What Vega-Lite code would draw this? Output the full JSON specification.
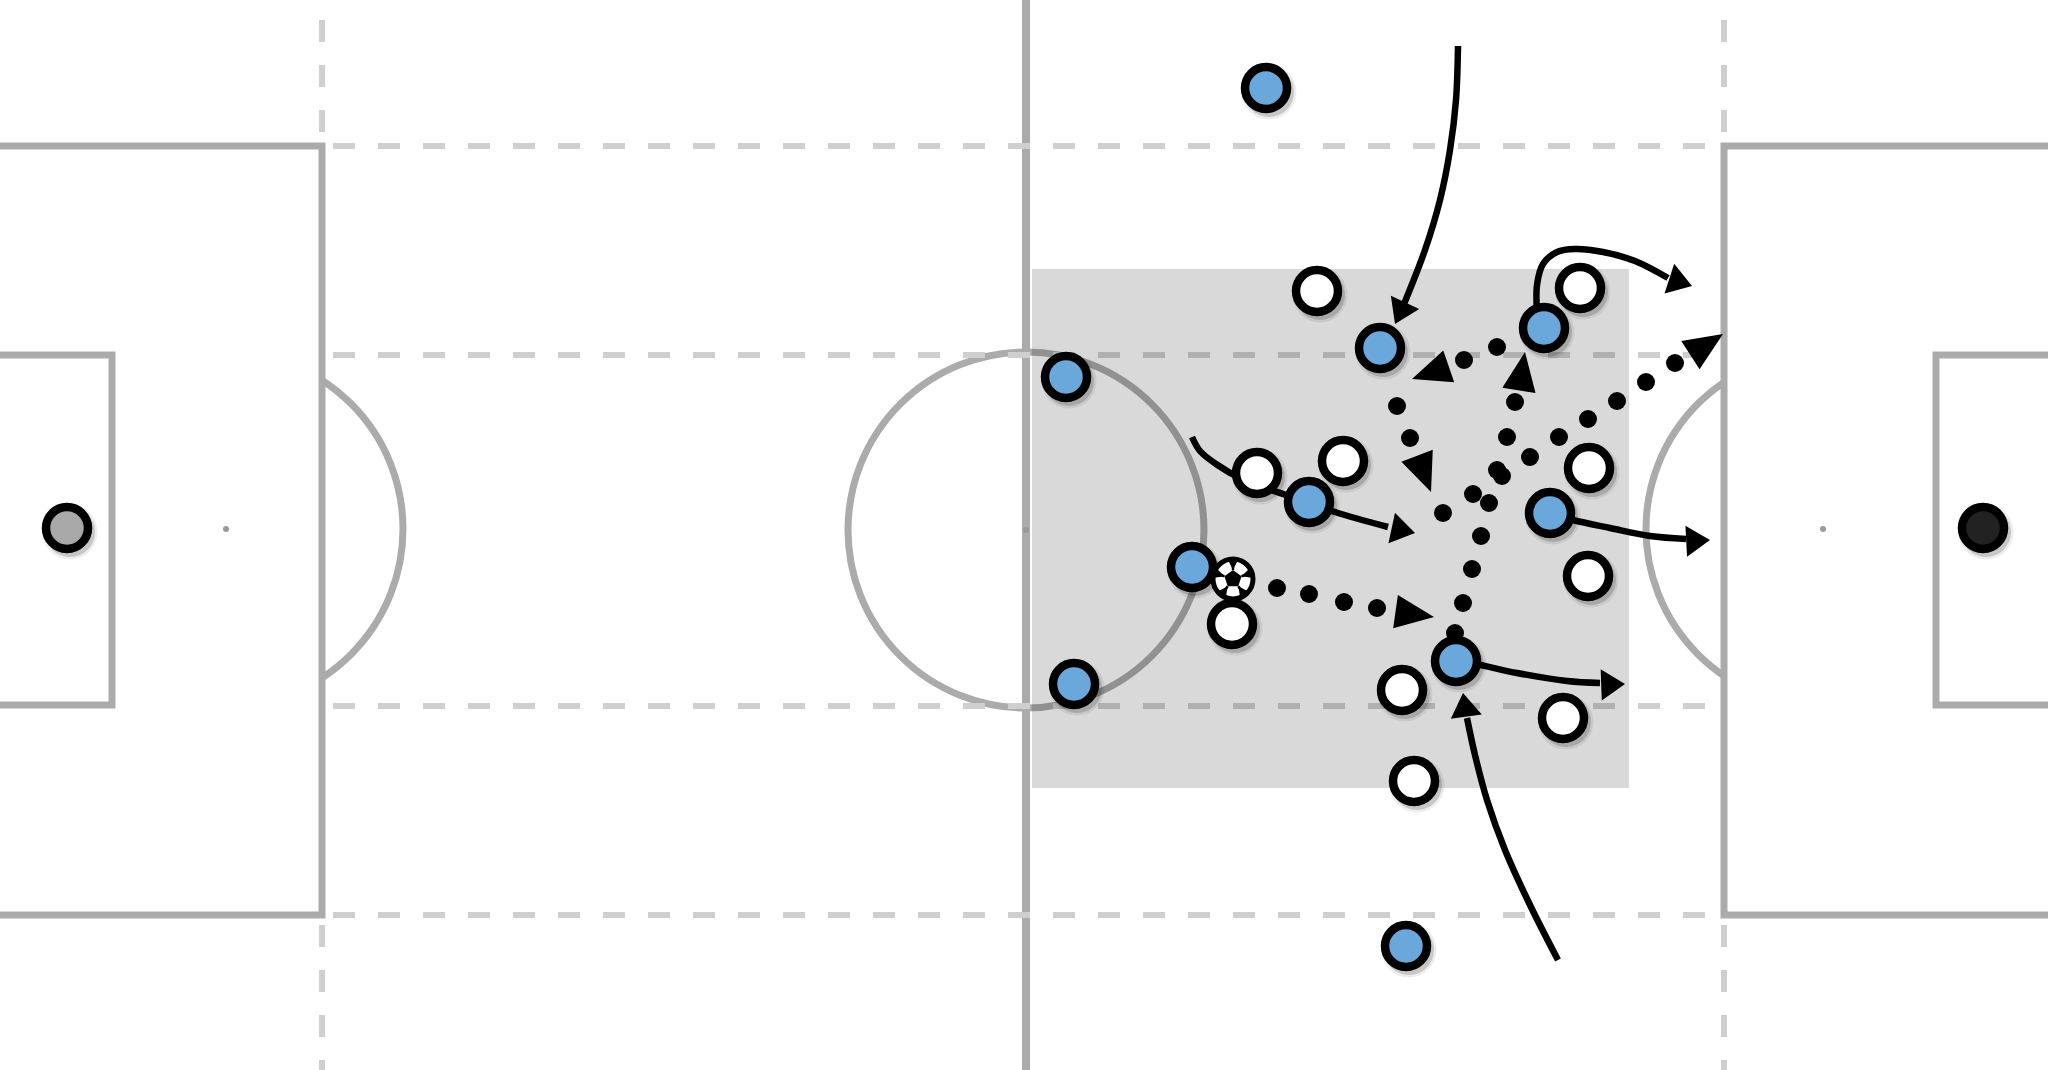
{
  "$schema": "https://vega.github.io/schema/vega-lite/v6.json",
  "width": 2048,
  "height": 1070,
  "padding": 0,
  "autosize": {"type": "none"},
  "background": "#ffffff",
  "config": {"view": {"stroke": null}},
  "datasets": {
    "players": [
      {"x": 63.3, "y": 4.4, "team": "blue"},
      {"x": 53.3, "y": 18.85, "team": "blue"},
      {"x": 69.0, "y": 17.4, "team": "blue"},
      {"x": 77.2, "y": 16.4, "team": "blue"},
      {"x": 65.45, "y": 25.1, "team": "blue"},
      {"x": 77.5, "y": 25.65, "team": "blue"},
      {"x": 59.6, "y": 28.35, "team": "blue"},
      {"x": 53.7, "y": 34.2, "team": "blue"},
      {"x": 72.8, "y": 33.05, "team": "blue"},
      {"x": 70.3, "y": 47.3, "team": "blue"},
      {"x": 65.85, "y": 14.55, "team": "white"},
      {"x": 79.0, "y": 14.4, "team": "white"},
      {"x": 62.85, "y": 23.65, "team": "white"},
      {"x": 67.15, "y": 23.05, "team": "white"},
      {"x": 79.45, "y": 23.4, "team": "white"},
      {"x": 79.4, "y": 28.8, "team": "white"},
      {"x": 61.6, "y": 31.2, "team": "white"},
      {"x": 70.1, "y": 34.5, "team": "white"},
      {"x": 78.15, "y": 35.9, "team": "white"},
      {"x": 70.7, "y": 39.05, "team": "white"},
      {"x": 3.35, "y": 26.4, "team": "keeper grey"},
      {"x": 99.15, "y": 26.4, "team": "keeper black"}
    ],
    "ball": [{"x": 61.65, "y": 28.95}]
  },
  "encoding": {
    "x": {"field": "x", "type": "quantitative", "scale": {"domain": [0, 102.4], "nice": false, "zero": false}, "axis": null},
    "y": {"field": "y", "type": "quantitative", "scale": {"domain": [0, 53.5], "nice": false, "zero": false, "reverse": true}, "axis": null}
  },
  "layer": [
    {
      "data": {"values": [{"x": 11.3, "y": 26.45}, {"x": 91.15, "y": 26.45}]},
      "mark": {"type": "point", "shape": "circle", "filled": false, "stroke": "#ababab", "strokeWidth": 7, "size": 125316, "opacity": 1}
    },
    {
      "data": {"values": [
        {"x": -1, "x2": 16.1, "y": 7.3, "y2": 45.75},
        {"x": 86.2, "x2": 103.5, "y": 7.3, "y2": 45.75}
      ]},
      "mark": {"type": "rect", "fill": "#ffffff", "stroke": "#ababab", "strokeWidth": 7},
      "encoding": {"x2": {"field": "x2"}, "y2": {"field": "y2"}}
    },
    {
      "data": {"values": [
        {"x": -1, "x2": 5.6, "y": 17.75, "y2": 35.25},
        {"x": 96.8, "x2": 103.5, "y": 17.75, "y2": 35.25}
      ]},
      "mark": {"type": "rect", "fill": "#ffffff", "stroke": "#ababab", "strokeWidth": 7},
      "encoding": {"x2": {"field": "x2"}, "y2": {"field": "y2"}}
    },
    {
      "data": {"values": [{"x": 51.3, "y": 26.5}]},
      "mark": {"type": "point", "shape": "circle", "filled": false, "stroke": "#ababab", "strokeWidth": 7, "size": 126736, "opacity": 1}
    },
    {
      "data": {"values": [{"x": 51.3, "y": -1, "y2": 54.5}]},
      "mark": {"type": "rule", "stroke": "#ababab", "strokeWidth": 8},
      "encoding": {"y2": {"field": "y2"}}
    },
    {
      "data": {"values": [
        {"x": 16.65, "x2": 85.9, "y": 7.3, "y2": 7.3},
        {"x": 16.65, "x2": 85.9, "y": 17.75, "y2": 17.75},
        {"x": 16.65, "x2": 85.9, "y": 35.3, "y2": 35.3},
        {"x": 16.65, "x2": 85.9, "y": 45.75, "y2": 45.75},
        {"x": 16.1, "x2": 16.1, "y": 1.0, "y2": 7.0},
        {"x": 16.1, "x2": 16.1, "y": 46.25, "y2": 53.5},
        {"x": 86.2, "x2": 86.2, "y": 1.0, "y2": 7.0},
        {"x": 86.2, "x2": 86.2, "y": 46.25, "y2": 53.5}
      ]},
      "mark": {"type": "rule", "stroke": "#cfcfcf", "strokeWidth": 6, "strokeDash": [22, 23]},
      "encoding": {"x2": {"field": "x2"}, "y2": {"field": "y2"}}
    },
    {
      "data": {"values": [{"x": 11.3, "y": 26.45}, {"x": 91.15, "y": 26.45}, {"x": 51.3, "y": 26.5}]},
      "mark": {"type": "point", "shape": "circle", "filled": true, "color": "#9a9a9a", "size": 36, "opacity": 1}
    },
    {
      "data": {"values": [{"x": 51.6, "x2": 81.45, "y": 13.45, "y2": 39.4}]},
      "mark": {"type": "rect", "color": "#000000", "opacity": 0.15},
      "encoding": {"x2": {"field": "x2"}, "y2": {"field": "y2"}}
    },
    {
      "data": {"values": [
        {"id": "A", "seq": 1, "x": 72.9, "y": 2.3},
        {"id": "A", "seq": 2, "x": 72.8, "y": 5.0},
        {"id": "A", "seq": 3, "x": 72.5, "y": 7.5},
        {"id": "A", "seq": 4, "x": 72.0, "y": 10.0},
        {"id": "A", "seq": 5, "x": 71.25, "y": 12.5},
        {"id": "A", "seq": 6, "x": 70.2, "y": 15.2},
        {"id": "B", "seq": 1, "x": 76.85, "y": 15.6},
        {"id": "B", "seq": 2, "x": 76.85, "y": 14.25},
        {"id": "B", "seq": 3, "x": 77.15, "y": 13.2},
        {"id": "B", "seq": 4, "x": 77.85, "y": 12.6},
        {"id": "B", "seq": 5, "x": 78.75, "y": 12.45},
        {"id": "B", "seq": 6, "x": 80.15, "y": 12.6},
        {"id": "B", "seq": 7, "x": 81.75, "y": 13.05},
        {"id": "B", "seq": 8, "x": 83.4, "y": 13.9},
        {"id": "C", "seq": 1, "x": 59.6, "y": 21.85},
        {"id": "C", "seq": 2, "x": 60.0, "y": 22.55},
        {"id": "C", "seq": 3, "x": 60.8, "y": 23.2},
        {"id": "C", "seq": 4, "x": 62.0, "y": 23.9},
        {"id": "C", "seq": 5, "x": 64.3, "y": 24.75},
        {"id": "C", "seq": 6, "x": 66.75, "y": 25.6},
        {"id": "C", "seq": 7, "x": 69.4, "y": 26.35},
        {"id": "D", "seq": 1, "x": 77.5, "y": 25.65},
        {"id": "D", "seq": 2, "x": 78.65, "y": 26.0},
        {"id": "D", "seq": 3, "x": 80.5, "y": 26.4},
        {"id": "D", "seq": 4, "x": 82.5, "y": 26.8},
        {"id": "D", "seq": 5, "x": 84.3, "y": 26.95},
        {"id": "E", "seq": 1, "x": 72.8, "y": 33.05},
        {"id": "E", "seq": 2, "x": 74.0, "y": 33.25},
        {"id": "E", "seq": 3, "x": 75.85, "y": 33.65},
        {"id": "E", "seq": 4, "x": 78.35, "y": 34.05},
        {"id": "E", "seq": 5, "x": 80.0, "y": 34.15},
        {"id": "F", "seq": 1, "x": 77.9, "y": 48.0},
        {"id": "F", "seq": 2, "x": 76.5, "y": 45.25},
        {"id": "F", "seq": 3, "x": 75.25, "y": 42.5},
        {"id": "F", "seq": 4, "x": 74.35, "y": 40.0},
        {"id": "F", "seq": 5, "x": 73.75, "y": 37.75},
        {"id": "F", "seq": 6, "x": 73.35, "y": 35.9}
      ]},
      "mark": {"type": "line", "color": "#000000", "strokeWidth": 6.5, "interpolate": "catmull-rom"},
      "encoding": {"detail": {"field": "id"}, "order": {"field": "seq", "type": "quantitative"}}
    },
    {
      "data": {"values": [
        {"pass": "P1", "x": 63.85, "y": 29.4},
        {"pass": "P1", "x": 65.45, "y": 29.7},
        {"pass": "P1", "x": 67.2, "y": 30.1},
        {"pass": "P1", "x": 68.85, "y": 30.4},
        {"pass": "P2", "x": 72.75, "y": 31.65},
        {"pass": "P2", "x": 73.15, "y": 30.15},
        {"pass": "P2", "x": 73.6, "y": 28.45},
        {"pass": "P2", "x": 74.05, "y": 26.8},
        {"pass": "P2", "x": 74.45, "y": 25.15},
        {"pass": "P2", "x": 74.85, "y": 23.5},
        {"pass": "P2", "x": 75.35, "y": 21.85},
        {"pass": "P2", "x": 75.75, "y": 20.1},
        {"pass": "P3", "x": 72.15, "y": 25.65},
        {"pass": "P3", "x": 73.65, "y": 24.7},
        {"pass": "P3", "x": 75.1, "y": 23.8},
        {"pass": "P3", "x": 76.5, "y": 22.85},
        {"pass": "P3", "x": 77.95, "y": 21.85},
        {"pass": "P3", "x": 79.4, "y": 20.95},
        {"pass": "P3", "x": 80.85, "y": 20.05},
        {"pass": "P3", "x": 82.3, "y": 19.1},
        {"pass": "P3", "x": 83.75, "y": 18.15},
        {"pass": "P4", "x": 69.85, "y": 20.3},
        {"pass": "P4", "x": 70.5, "y": 21.9},
        {"pass": "P5", "x": 74.85, "y": 17.35},
        {"pass": "P5", "x": 73.2, "y": 18.0}
      ]},
      "mark": {"type": "point", "shape": "circle", "filled": true, "color": "#000000", "size": 324, "opacity": 1}
    },
    {
      "data": {"values": [
        {"x": 69.75, "y": 16.2, "dir": 205},
        {"x": 84.6, "y": 14.3, "dir": 108},
        {"x": 70.75, "y": 26.65, "dir": 102},
        {"x": 85.5, "y": 27.0, "dir": 87},
        {"x": 81.25, "y": 34.2, "dir": 88},
        {"x": 73.15, "y": 34.65, "dir": 352}
      ]},
      "mark": {"type": "point", "shape": "M0,0L0.92,1.4L-0.92,1.4Z", "filled": true, "color": "#000000", "size": 1156, "opacity": 1},
      "encoding": {"angle": {"field": "dir", "type": "quantitative", "scale": null}}
    },
    {
      "data": {"values": [
        {"x": 71.7, "y": 30.85, "dir": 98},
        {"x": 76.25, "y": 17.6, "dir": 9},
        {"x": 86.15, "y": 16.7, "dir": 57},
        {"x": 71.55, "y": 24.6, "dir": 159},
        {"x": 70.6, "y": 18.95, "dir": 251}
      ]},
      "mark": {"type": "point", "shape": "M0,0L0.8,1.85L-0.8,1.85Z", "filled": true, "color": "#000000", "size": 1764, "opacity": 1},
      "encoding": {"angle": {"field": "dir", "type": "quantitative", "scale": null}}
    },
    {
      "data": {"name": "players"},
      "mark": {"type": "point", "shape": "circle", "filled": true, "color": "#000000", "size": 3025, "opacity": 0.07, "xOffset": 3, "yOffset": 4}
    },
    {
      "data": {"name": "players"},
      "mark": {"type": "point", "shape": "circle", "filled": true, "color": "#000000", "size": 2500, "opacity": 0.16, "xOffset": 3, "yOffset": 4}
    },
    {
      "data": {"name": "players"},
      "mark": {"type": "point", "shape": "circle", "filled": true, "stroke": "#000000", "strokeWidth": 8.5, "size": 1764, "opacity": 1},
      "encoding": {
        "color": {
          "field": "team",
          "type": "nominal",
          "scale": {"domain": ["blue", "white", "keeper grey", "keeper black"], "range": ["#6aa8dc", "#ffffff", "#a8a8a8", "#222222"]},
          "legend": null
        }
      }
    },
    {
      "data": {"name": "ball"},
      "mark": {"type": "point", "shape": "circle", "filled": true, "fill": "#ffffff", "stroke": "#000000", "strokeWidth": 5, "size": 1600, "opacity": 1}
    },
    {
      "data": {"name": "ball"},
      "mark": {"type": "point", "shape": "M0,-1L0.951,-0.309L0.588,0.809L-0.588,0.809L-0.951,-0.309Z M0,-1L-0.582,-2.173L0.582,-2.173Z M0.951,-0.309L1.887,-1.225L2.247,-0.118Z M0.588,0.809L1.749,1.416L0.806,2.101Z M-0.588,0.809L-0.806,2.101L-1.749,1.416Z M-0.951,-0.309L-2.247,-0.118L-1.887,-1.225Z", "filled": true, "color": "#000000", "size": 324, "opacity": 1}
    },
    {
      "data": {"name": "ball"},
      "mark": {"type": "point", "shape": "M0,-1L0,-2.2M0.951,-0.309L2.09,-0.68M0.588,0.809L1.29,1.78M-0.588,0.809L-1.29,1.78M-0.951,-0.309L-2.09,-0.68", "filled": false, "stroke": "#000000", "strokeWidth": 2.5, "size": 324, "opacity": 1}
    }
  ]
}
